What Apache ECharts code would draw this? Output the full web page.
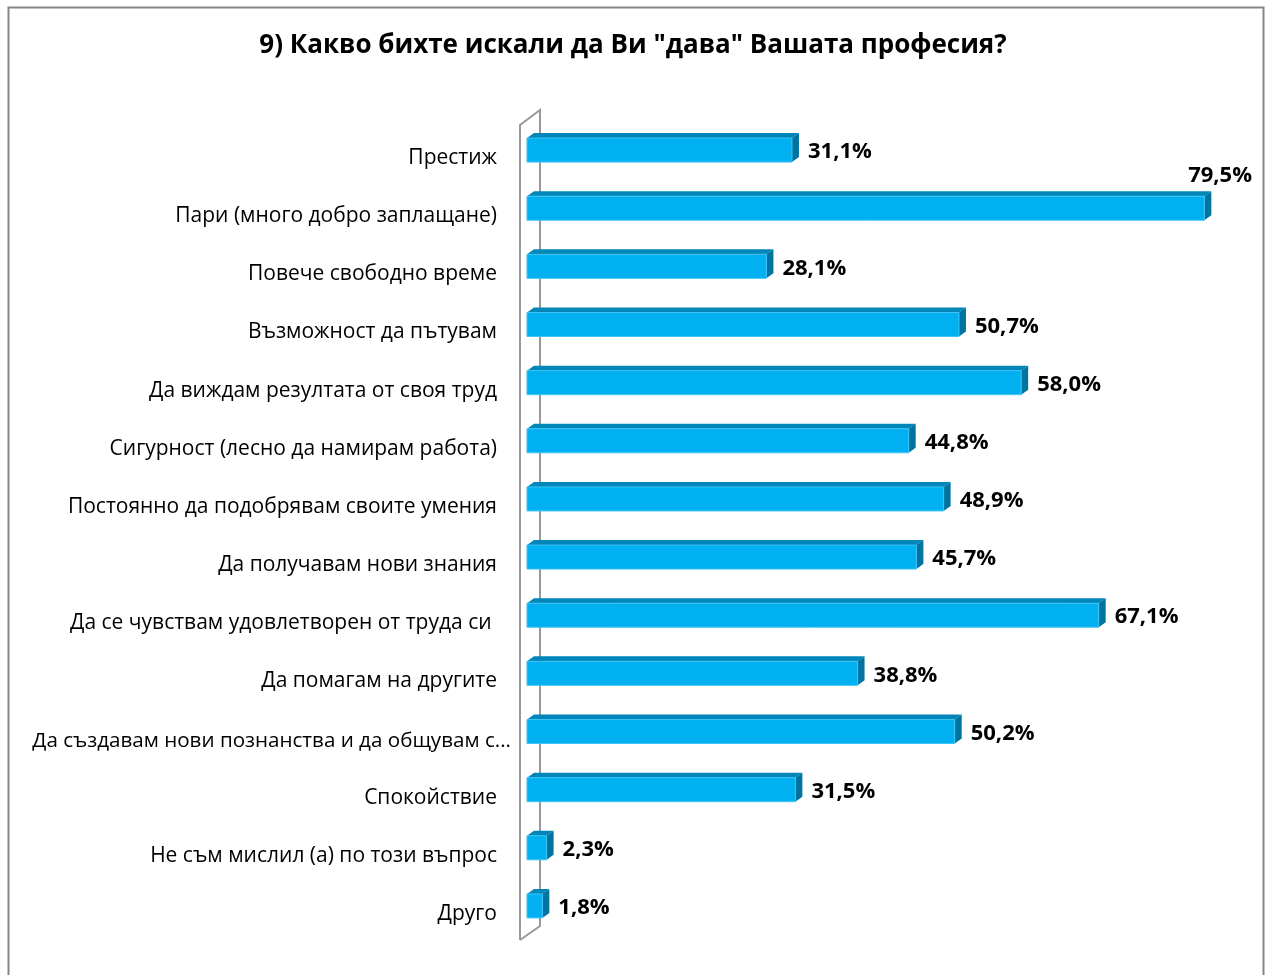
<!DOCTYPE html>
<html>
<head>
<meta charset="utf-8">
<script src="https://cdn.jsdelivr.net/npm/echarts@6/dist/echarts.min.js"></script>
<style>html,body{margin:0;padding:0;background:#fff}#c{width:1266px;height:975px}</style>
</head>
<body>
<div id="c"></div>
<script>
const titleText = '9) Какво бихте искали да Ви "дава" Вашата професия?';
const categories = [
  'Престиж',
  'Пари (много добро заплащане)',
  'Повече свободно време',
  'Възможност да пътувам',
  'Да виждам резултата от своя труд',
  'Сигурност (лесно да намирам работа)',
  'Постоянно да подобрявам своите умения',
  'Да получавам нови знания',
  'Да се чувствам удовлетворен от труда си ',
  'Да помагам на другите',
  'Да създавам нови познанства и да общувам с...',
  'Спокойствие',
  'Не съм мислил (а) по този въпрос',
  'Друго'
];
const values = [31.1, 79.5, 28.1, 50.7, 58.0, 44.8, 48.9, 45.7, 67.1, 38.8, 50.2, 31.5, 2.3, 1.8];

const FONT = '"Open Sans", "Noto Sans", sans-serif';
const chart = echarts.init(document.getElementById('c'));
const fmt = v => v.toFixed(1).replace('.', ',') + '%';
const DX = 7, DY = -5, H = 24;

function renderBar(params, api) {
  const idx = api.value(1);
  const v = api.value(0);
  const p0 = api.coord([0, idx]);
  const p1 = api.coord([v, idx]);
  const x0 = p0[0], x1 = p1[0], yc = p0[1];
  const top = yc - 18;
  const children = [
    {type: 'polygon', shape: {points: [[x0, top], [x0 + DX, top + DY], [x1 + DX, top + DY], [x1, top]]},
     style: {fill: '#0086B8'}},
    {type: 'polygon', shape: {points: [[x1, top], [x1 + DX, top + DY], [x1 + DX, top + DY + H], [x1, top + H]]},
     style: {fill: '#00739E'}},
    {type: 'rect', shape: {x: x0, y: top, width: x1 - x0, height: H},
     style: {fill: '#00B0F0', stroke: '#3CC4F4', lineWidth: 1}}
  ];
  const txt = fmt(v);
  let lx = x1 + DX + 9, ly = yc - 4, align = 'left';
  if (lx + 72 > 1256) { lx = 1252; ly = yc - 38; align = 'right'; }
  children.push({type: 'text', style: {text: txt, x: lx, y: ly, align: align, verticalAlign: 'middle',
    fontSize: 22, fontWeight: 'bold', fontFamily: FONT, fill: '#000'}});
  return {type: 'group', children};
}

function renderWall(params, api) {
  const cs = params.coordSys;
  const x = cs.x, y = cs.y, h = cs.height;
  const st = {stroke: '#999', lineWidth: 2, fill: null};
  return {type: 'group', children: [
    {type: 'polyline', shape: {points: [[x - 7, y + h - 1], [x - 7, y - 2], [x + 13, y - 17], [x + 13, y + h - 15], [x - 7, y + h - 1]]}, style: st}
  ]};
}

chart.setOption({
  animation: false,
  backgroundColor: '#fff',
  title: {text: titleText, left: 'center', top: 28,
    textStyle: {fontSize: 26, fontWeight: 'bold', fontFamily: FONT, color: '#000'}},
  grid: {left: 527, top: 127, height: 814, width: 681.6},
  xAxis: {type: 'value', min: 0, max: 80, show: false},
  yAxis: {type: 'category', data: categories, inverse: true,
    axisLine: {show: false}, axisTick: {show: false}, splitLine: {show: false},
    axisLabel: {fontSize: 21, color: '#000', fontFamily: FONT, margin: 30, padding: [4, 0, 0, 0],
      formatter: (s) => s.length > 42 ? '{l|' + s + '}' : s,
      rich: {l: {fontSize: 20.6, fontFamily: FONT, color: '#000', padding: [4, -14, 0, 0]}}}},
  graphic: [{type: 'rect', left: 6, top: 5, shape: {width: 1255, height: 990},
    style: {fill: null, stroke: '#868686', lineWidth: 2}, silent: true}],
  series: [
    {type: 'custom', renderItem: renderWall, data: [[0, 0]], z: 1, silent: true},
    {type: 'custom', renderItem: renderBar, z: 2,
      data: values.map((v, i) => [v, i])}
  ]
});
</script>
</body>
</html>
